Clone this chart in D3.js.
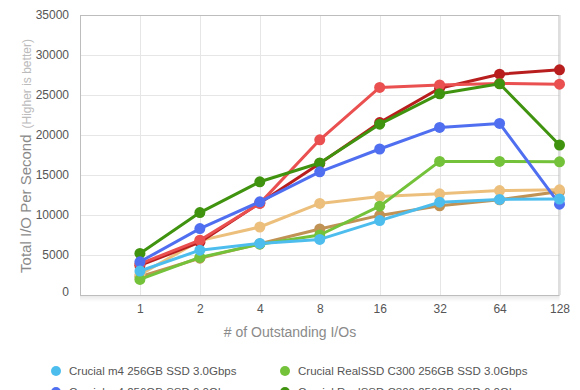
<!DOCTYPE html>
<html><head><meta charset="utf-8">
<script src="https://cdn.jsdelivr.net/npm/d3@7/dist/d3.min.js"></script>
<style>
html,body{margin:0;padding:0;background:#fff;}
svg{display:block;font-family:"Liberation Sans",Arial,Helvetica,sans-serif;}
</style></head>
<body><svg id="c" width="580" height="390"></svg>
<script>
const categories = ["1","2","4","8","16","32","64","128"];
const yTicks = [0,5000,10000,15000,20000,25000,30000,35000];
const seriesNames = [
  "Crucial m4 256GB SSD 3.0Gbps",
  "Crucial m4 256GB SSD 6.0Gbps",
  "Crucial RealSSD C300 256GB SSD 3.0Gbps",
  "Crucial RealSSD C300 256GB SSD 6.0Gbps",
  "Intel SSD 510 250GB 3.0Gbps",
  "Intel SSD 510 250GB 6.0Gbps",
  "OCZ Vertex 3 240GB 3.0Gbps",
  "OCZ Vertex 3 240GB 6.0Gbps"
];
const seriesColors = ["#4dbdee","#4f6ff0","#74c23a","#3f930f","#ea5050","#b91e1e","#ecc07c","#c09254"];
const m4_3G   = [3000, 5600, 6450, 6950, 9300, 11600, 11950, 12000];
const m4_6G   = [4150, 8300, 11650, 15400, 18250, 20950, 21450, 11350];
const c300_3G = [1950, 4700, 6350, 7500, 11100, 16700, 16700, 16650];
const c300_6G = [5200, 10300, 14150, 16500, 21350, 25150, 26400, 18750];
const red_3G  = [3900, 6850, 11450, 19400, 25950, 26250, 26450, 26350];
const red_6G  = [3700, 6600, 11500, 16450, 21550, 25850, 27600, 28150];
const or_3G   = [2550, 6800, 8500, 11450, 12300, 12650, 13050, 13150];
const tan_6G  = [2300, 4600, 6400, 8250, 9950, 11150, 11900, 12950];
const seriesValues = [m4_3G, m4_6G, c300_3G, c300_6G, red_3G, red_6G, or_3G, tan_6G];

const svg = d3.select("#c");
const L = 80, R = 559.5, T = 15, B = 295;
const x = d3.scaleLinear().domain([-1, categories.length - 1]).range([L, R]);
const y = d3.scaleLinear().domain([0, 35000]).range([B, T]);

// shadow under plot
const defs = svg.append("defs");
const g1 = defs.append("linearGradient").attr("id","sh").attr("x1",0).attr("y1",0).attr("x2",0).attr("y2",1);
g1.append("stop").attr("offset","0%").attr("stop-color","#000").attr("stop-opacity",0.10);
g1.append("stop").attr("offset","100%").attr("stop-color","#000").attr("stop-opacity",0);
svg.append("rect").attr("x",L).attr("y",B).attr("width",R-L).attr("height",7).attr("fill","url(#sh)");
svg.append("rect").attr("x",L).attr("y",T).attr("width",R-L).attr("height",B-T).attr("fill","#fff");

// grid
svg.append("g").selectAll("line").data(yTicks).join("line")
  .attr("x1",L).attr("x2",R).attr("y1",d=>Math.round(y(d))+0.5).attr("y2",d=>Math.round(y(d))+0.5)
  .attr("stroke","#e6e6e6").attr("stroke-width",1);
svg.append("g").selectAll("line").data(categories.map((c,i)=>i)).join("line")
  .attr("y1",T).attr("y2",B).attr("x1",d=>Math.round(x(d))+0.5).attr("x2",d=>Math.round(x(d))+0.5)
  .attr("stroke","#e6e6e6").attr("stroke-width",1);
svg.append("rect").attr("x",L+0.5).attr("y",T+0.5).attr("width",R-L-1).attr("height",B-T)
  .attr("fill","none").attr("stroke","#bdbdbd").attr("stroke-width",1);

// axes
const yAxis = d3.axisLeft(y).tickValues(yTicks).tickSize(0).tickPadding(11).tickFormat(d3.format("d"));
const ya = svg.append("g").attr("transform",`translate(${L},0)`).call(yAxis);
ya.select(".domain").remove();
ya.selectAll("text").attr("font-size",12).attr("fill","#555").attr("font-family","Liberation Sans, Arial, sans-serif");
ya.selectAll(".tick").filter(d=>d===0).select("text").attr("dy","0.0em");

const xAxis = d3.axisBottom(x).tickValues(categories.map((c,i)=>i)).tickSize(0).tickPadding(9).tickFormat(i=>categories[i]);
const xa = svg.append("g").attr("transform",`translate(0,${B})`).call(xAxis);
xa.select(".domain").remove();
xa.selectAll("text").attr("font-size",12).attr("fill","#555").attr("font-family","Liberation Sans, Arial, sans-serif");

// titles
svg.append("text").attr("x",290).attr("y",337).attr("text-anchor","middle")
  .attr("font-size",14).attr("fill","#8a8a8a").text("# of Outstanding I/Os");
const yt = svg.append("text").attr("transform","translate(31,156) rotate(-90)").attr("text-anchor","middle");
yt.append("tspan").attr("font-size",15).attr("fill","#8a8a8a").text("Total I/O Per Second");
yt.append("tspan").attr("font-size",12).attr("fill","#bbbbbb").attr("dx",6).text("(Higher is better)");

// series (first in legend drawn on top)
const line = d3.line().x((d,i)=>x(i)).y(d=>y(d));
const order = d3.range(seriesValues.length).reverse();
order.forEach(k=>{
  const g = svg.append("g");
  g.append("path").datum(seriesValues[k]).attr("d",line).attr("fill","none")
    .attr("stroke",seriesColors[k]).attr("stroke-width",3).attr("stroke-linejoin","round");
  g.selectAll("circle").data(seriesValues[k]).join("circle")
    .attr("cx",(d,i)=>x(i)).attr("cy",d=>y(d)).attr("r",5.5).attr("fill",seriesColors[k]);
});

// legend
const leg = svg.append("g");
seriesNames.forEach((n,k)=>{
  const col = k < 2 ? 0 : (k < 4 ? 1 : (k < 6 ? 0 : 1));
  const row = k % 2 + (k >= 4 ? 2 : 0);
  const lx = col === 0 ? 56 : 285, ly = 371 + row * 21;
  leg.append("circle").attr("cx",lx).attr("cy",ly).attr("r",5).attr("fill",seriesColors[k]);
  leg.append("text").attr("x",lx+13).attr("y",ly+4).attr("font-size",11.5).attr("fill","#555").text(n);
});
</script></body></html>
